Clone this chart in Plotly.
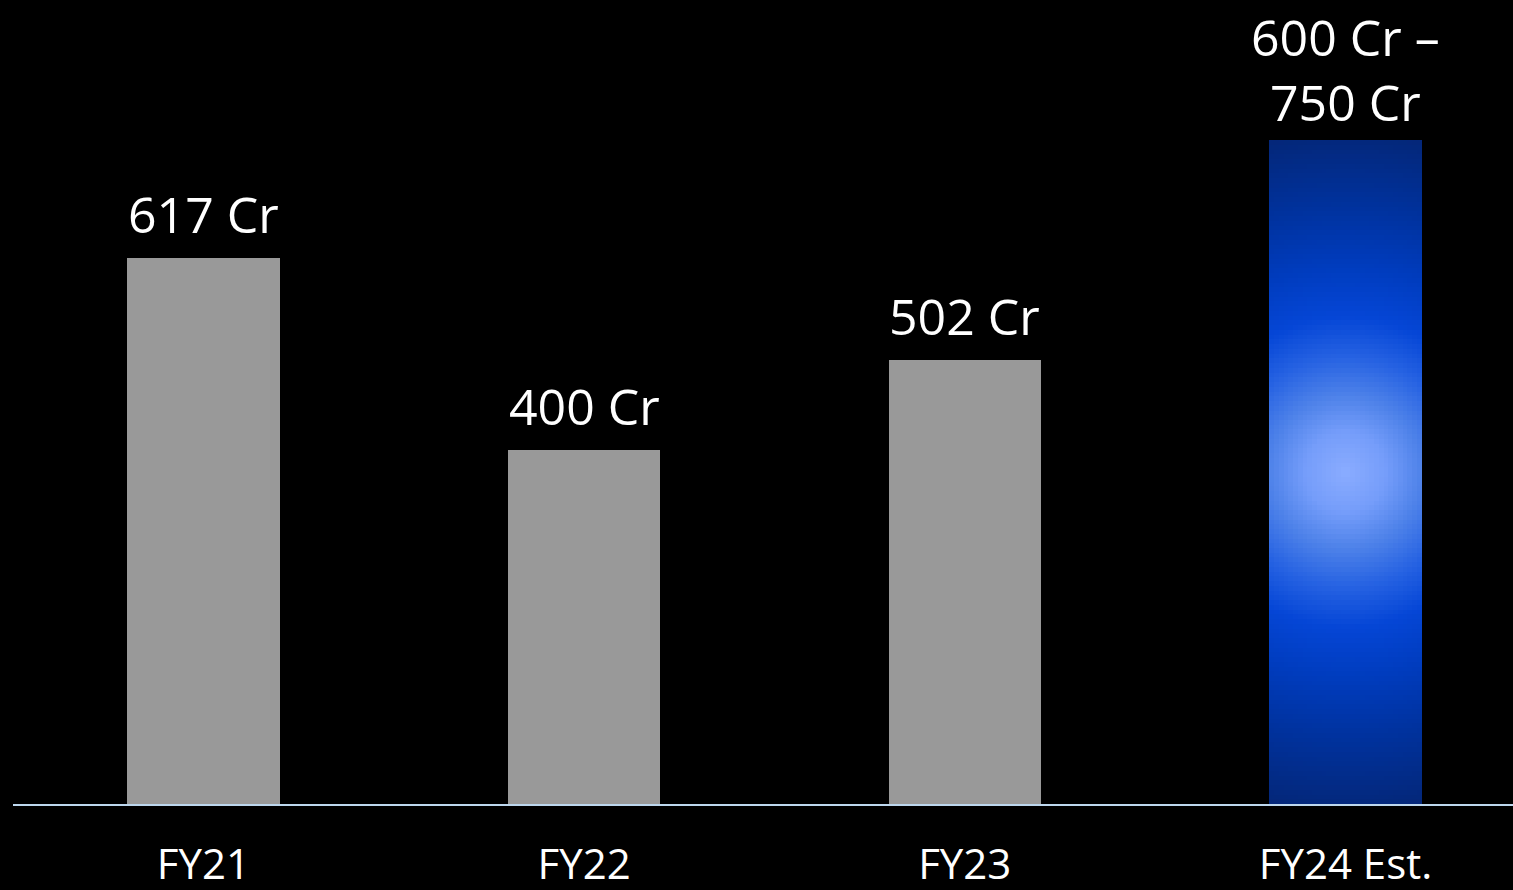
import numpy as np
import plotly.graph_objects as go

# ---- data ----
categories = ["FY21", "FY22", "FY23", "FY24 Est."]
values = [617, 400, 502, 750]
labels = ["617 Cr", "400 Cr", "502 Cr", "600 Cr –<br>750 Cr"]

# ---- style ----
BAR_W = 0.4
GRAY = "#999999"
FONT = "Open Sans"
LABEL_SHIFT = [8, 8, 8, 2]

fig = go.Figure()

# gray actual bars
fig.add_trace(go.Bar(
    x=categories[:3], y=values[:3], width=BAR_W,
    marker=dict(color=GRAY, line=dict(width=0)),
    hoverinfo="skip", showlegend=False,
))

# radial-gradient estimate bar (built from nested stacked segments)
stops = [(0, (138, 172, 255)), (40, (117, 157, 250)), (76, (78, 130, 233)),
         (115, (38, 98, 226)), (155, (5, 70, 214)), (205, (0, 60, 190)),
         (265, (0, 50, 158)), (345, (4, 38, 118))]


def grad(d):
    for (d0, c0), (d1, c1) in zip(stops[:-1], stops[1:]):
        if d <= d1:
            t = (d - d0) / (d1 - d0)
            c = [c0[k] + (c1[k] - c0[k]) * t for k in range(3)]
            return "rgb(%d,%d,%d)" % tuple(round(v) for v in c)
    return "rgb(%d,%d,%d)" % stops[-1][1]


HALF_W_PX, HALF_H_PX = 76.0, 332.0
cat = categories[3]
v = values[3]
n_layers, n_seg = 16, 140
step = v / n_seg
bases = [j * step for j in range(n_seg)]
heights = [min(step * 1.6, v - b) for b in bases]
fvs = [abs((j + 0.5) * step - v / 2) / (v / 2) for j in range(n_seg)]
widths = [BAR_W * (1 - k / n_layers) for k in range(n_layers)]
for k, w in enumerate(widths):
    w_in = widths[k + 1] if k + 1 < n_layers else 0.0
    fu = ((w + w_in) / 2) / BAR_W
    cols = [grad(np.hypot(fu * HALF_W_PX, fv * HALF_H_PX)) for fv in fvs]
    fig.add_trace(go.Bar(
        x=[cat] * n_seg, y=heights, base=bases, width=w,
        marker=dict(color=cols, line=dict(width=0)),
        hoverinfo="skip", showlegend=False,
    ))

for c, val, lab, sh in zip(categories, values, labels, LABEL_SHIFT):
    fig.add_annotation(
        x=c, y=val, text=lab, showarrow=False, yanchor="bottom",
        yshift=sh, font=dict(family=FONT, size=50, color="white"),
    )

fig.update_layout(
    width=1513, height=890,
    paper_bgcolor="black", plot_bgcolor="black",
    barmode="overlay", bargap=0,
    margin=dict(l=13, r=0, t=0, b=86),
    font=dict(family=FONT, color="white"),
    xaxis=dict(
        type="category", range=[-0.5, 3.44], showgrid=False, zeroline=False,
        showline=True, linecolor="#bdd7ee", linewidth=2, ticks="",
        tickfont=dict(family=FONT, size=42, color="white"),
        ticklabelstandoff=23,
        automargin=False, fixedrange=True,
    ),
    yaxis=dict(range=[0, 908.5], visible=False, fixedrange=True),
    showlegend=False,
)

fig.write_html(
    "out.html",
    config={"displayModeBar": False},
    post_script="document.body.style.margin='0';document.body.style.background='black';",
)
